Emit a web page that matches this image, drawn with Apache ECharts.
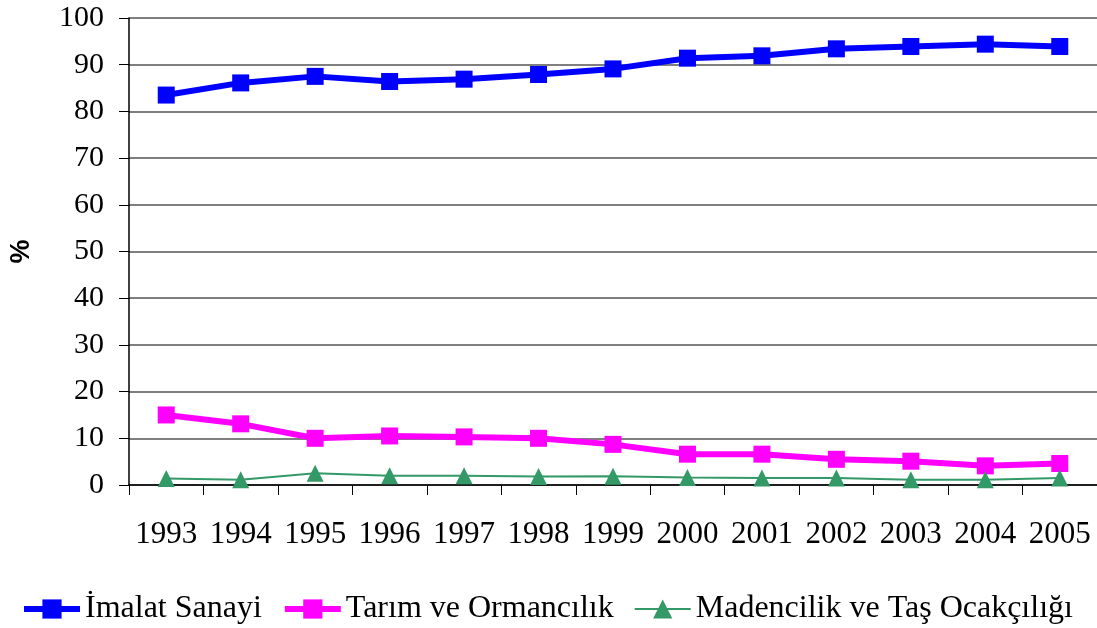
<!DOCTYPE html>
<html>
<head>
<meta charset="utf-8">
<script src="https://cdn.jsdelivr.net/npm/echarts@6/dist/echarts.min.js"></script>
<style>
  html, body { margin: 0; padding: 0; background: #fff; }
  #main { width: 1097px; height: 628px; }
</style>
</head>
<body>
<div id="main"></div>
<script>
// yillar
var years = ['1993', '1994', '1995', '1996', '1997', '1998', '1999', '2000', '2001', '2002', '2003', '2004', '2005'];

// sektor paylari (%)
var imalat = [83.5, 86.1, 87.5, 86.4, 86.9, 87.9, 89.1, 91.4, 91.9, 93.4, 93.9, 94.4, 93.9];
var tarim = [15.0, 13.1, 10.0, 10.5, 10.3, 10.0, 8.7, 6.6, 6.6, 5.5, 5.1, 4.1, 4.6];
var madencilik = [1.4, 1.1, 2.5, 2.0, 2.0, 1.8, 1.9, 1.6, 1.5, 1.5, 1.1, 1.1, 1.5];

var seriesNames = ['İmalat Sanayi', 'Tarım ve Ormancılık', 'Madencilik ve Taş Ocakçılığı'];

var chart = echarts.init(document.getElementById('main'));
var serif = '"Liberation Serif", "Times New Roman", serif';

chart.setOption({
    animation: false,
    grid: { left: 128, right: -3, top: 18, bottom: 143 },
    legend: {
        top: 588,
        left: 16,
        itemGap: 20,
        itemWidth: 56,
        itemHeight: 24,
        lineStyle: { width: 'inherit' },
        textStyle: { fontFamily: serif, fontSize: 32, color: '#000' },
        data: seriesNames
    },
    xAxis: {
        type: 'category',
        data: years,
        boundaryGap: true,
        axisLine: { lineStyle: { color: '#000', width: 1.5 } },
        axisTick: { show: true, length: 10, interval: 0, lineStyle: { color: '#000' } },
        axisLabel: { interval: 0, fontFamily: serif, fontSize: 31, color: '#000', margin: 34 }
    },
    yAxis: {
        type: 'value',
        min: 0,
        max: 100,
        interval: 10,
        name: '%',
        nameLocation: 'middle',
        nameGap: 94,
        nameRotate: 90,
        nameTextStyle: { fontFamily: '"Liberation Sans", Arial, sans-serif', fontWeight: 'bold', fontSize: 27, color: '#000' },
        axisLine: { show: true, lineStyle: { color: '#000', width: 1.5 } },
        axisTick: { show: true, length: 10, lineStyle: { color: '#000' } },
        axisLabel: { fontFamily: serif, fontSize: 30, color: '#000', margin: 25 },
        splitLine: { show: true, lineStyle: { color: '#555', width: 1.5 } }
    },
    series: [
        {
            name: seriesNames[0],
            type: 'line',
            data: imalat,
            symbol: 'rect',
            symbolSize: 17,
            itemStyle: { color: '#0000ff' },
            lineStyle: { color: '#0000ff', width: 6 }
        },
        {
            name: seriesNames[1],
            type: 'line',
            data: tarim,
            symbol: 'rect',
            symbolSize: 17,
            itemStyle: { color: '#ff00ff' },
            lineStyle: { color: '#ff00ff', width: 6 }
        },
        {
            name: seriesNames[2],
            type: 'line',
            data: madencilik,
            symbol: 'triangle',
            symbolSize: 17,
            itemStyle: { color: '#339966' },
            lineStyle: { color: '#339966', width: 2 }
        }
    ]
});
</script>
</body>
</html>
